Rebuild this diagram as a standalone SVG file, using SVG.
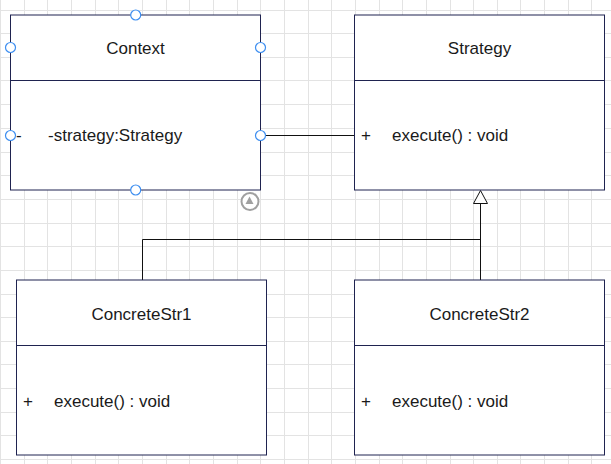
<svg xmlns="http://www.w3.org/2000/svg" width="611" height="464" viewBox="0 0 611 464">
  <style>
    .grid { stroke: #e3e3e3; stroke-width: 1; fill: none; }
    .box { fill: #ffffff; stroke: #1f2350; stroke-width: 1; }
    .div { stroke: #1f2350; stroke-width: 1; }
    .t { font-family: "Liberation Sans", Arial, sans-serif; font-size: 17px; fill: #1a1a1a; }
    .c { text-anchor: middle; }
    .conn { stroke: #111111; stroke-width: 1; fill: none; }
    .handle { fill: #ffffff; stroke: #3d8ef0; stroke-width: 1.2; }
  </style>
  <rect x="0" y="0" width="611" height="464" fill="#ffffff"/>
  <path class="grid" d="M0.5 0V464M24.5 0V464M47.5 0V464M71.5 0V464M95.5 0V464M118.5 0V464M142.5 0V464M166.5 0V464M189.5 0V464M213.5 0V464M237.5 0V464M260.5 0V464M284.5 0V464M308.5 0V464M331.5 0V464M355.5 0V464M379.5 0V464M402.5 0V464M426.5 0V464M450.5 0V464M473.5 0V464M497.5 0V464M520.5 0V464M544.5 0V464M568.5 0V464M591.5 0V464
  M0 10.5H611M0 33.5H611M0 57.5H611M0 80.5H611M0 104.5H611M0 128.5H611M0 152.5H611M0 175.5H611M0 199.5H611M0 223.5H611M0 246.5H611M0 270.5H611M0 294.5H611M0 317.5H611M0 341.5H611M0 364.5H611M0 388.5H611M0 412.5H611M0 435.5H611M0 459.5H611"/>

  <g id="connectors">
    <line class="conn" x1="260.5" y1="135.5" x2="354.5" y2="135.5"/>
    <path class="conn" d="M142.5 280V239.5H480.5"/>
    <path class="conn" d="M480.5 280V203.5"/>
    <polygon points="480.5,190.5 473.5,203.5 487.5,203.5" fill="#ffffff" stroke="#111111" stroke-width="1"/>
  </g>

  <g id="context">
    <rect class="box" x="10.5" y="15" width="250" height="175"/>
    <line class="div" x1="10.5" y1="80.5" x2="260.5" y2="80.5"/>
    <text class="t c" x="135.5" y="54">Context</text>
    <text class="t" x="16" y="141">-</text>
    <text class="t" x="48" y="141">-strategy:Strategy</text>
    <circle class="handle" cx="135.7" cy="15" r="5"/>
    <circle class="handle" cx="10.5" cy="47.5" r="5"/>
    <circle class="handle" cx="260.5" cy="47.5" r="5"/>
    <circle class="handle" cx="10.5" cy="135.5" r="5"/>
    <circle class="handle" cx="260.5" cy="135.5" r="5"/>
    <circle class="handle" cx="135.7" cy="190" r="5"/>
    <circle cx="250" cy="201.5" r="8.5" fill="#ffffff" stroke="#a0a0a0" stroke-width="2"/>
    <polygon points="249.5,196.5 245.5,204 253.5,204" fill="#a0a0a0"/>
  </g>

  <g id="strategy">
    <rect class="box" x="354.5" y="15" width="250" height="175"/>
    <line class="div" x1="354.5" y1="80.5" x2="604.5" y2="80.5"/>
    <text class="t c" x="479.5" y="54">Strategy</text>
    <text class="t" x="361" y="141">+</text>
    <text class="t" x="392" y="141">execute() : void</text>
  </g>

  <g id="concretestr1">
    <rect class="box" x="16.5" y="280" width="250" height="175"/>
    <line class="div" x1="16.5" y1="345.5" x2="266.5" y2="345.5"/>
    <text class="t c" x="141.5" y="320">ConcreteStr1</text>
    <text class="t" x="23" y="407">+</text>
    <text class="t" x="54" y="407">execute() : void</text>
  </g>

  <g id="concretestr2">
    <rect class="box" x="354.5" y="280" width="250" height="175"/>
    <line class="div" x1="354.5" y1="345.5" x2="604.5" y2="345.5"/>
    <text class="t c" x="479.5" y="320">ConcreteStr2</text>
    <text class="t" x="361" y="407">+</text>
    <text class="t" x="392" y="407">execute() : void</text>
  </g>
</svg>
